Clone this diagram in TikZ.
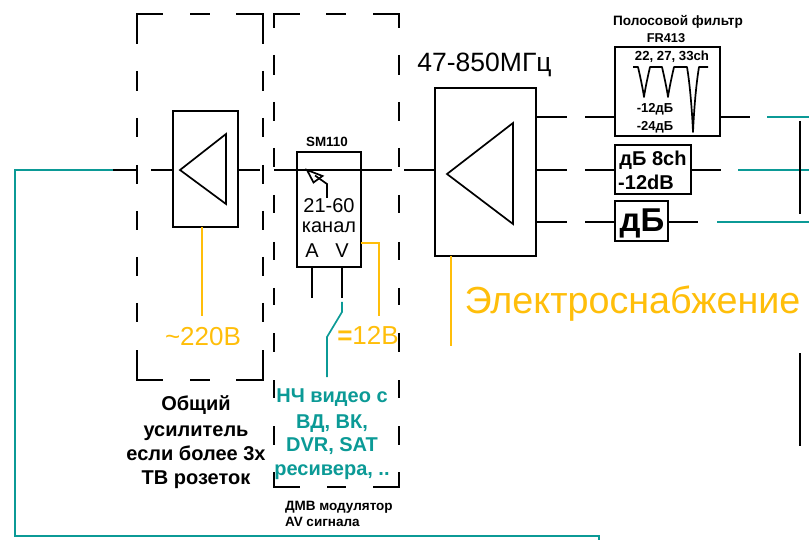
\documentclass[tikz,border=0pt]{standalone}
\usepackage{fontspec}
\setmainfont{Liberation Sans}
\definecolor{tealc}{HTML}{0B9A96}
\definecolor{orangec}{HTML}{FFBE0A}
\tikzset{
  blk/.style={draw=black,line width=1.9pt,minimum width=#1,inner sep=0pt,outer sep=0pt,rectangle},
  wire/.style={black,line width=1.9pt},
  thin wire/.style={black,line width=1.7pt},
  frameline/.style={black,line width=1.6pt},
  tealw/.style={tealc,line width=1.7pt},
  orw/.style={orangec,line width=1.6pt},
  lbl/.style={inner sep=0pt,outer sep=0pt,anchor=base,align=center},
  bl/.style={lbl,font=\bfseries\fontsize{#1}{#1}\selectfont},
  rg/.style={lbl,font=\fontsize{#1}{#1}\selectfont},
}
\begin{document}
\begin{tikzpicture}[x=1pt,y=-1pt]
\useasboundingbox (0,0) rectangle (809,540);
% frames
\draw[frameline] (137,44)--(137,14)--(163,14) (190,14)--(210,14) (236,14)--(263,14)--(263,44)
  (137,71)--(137,91) (137,118)--(137,137) (137,165)--(137,184) (137,211)--(137,230) (137,257)--(137,276) (137,303)--(137,322)
  (263,71)--(263,91) (263,118)--(263,137) (263,165)--(263,184) (263,211)--(263,230) (263,257)--(263,276) (263,303)--(263,322)
  (137,350)--(137,380)--(163,380) (190,380)--(210,380) (236,380)--(263,380)--(263,350);
\draw[frameline] (274,28)--(274,14)--(300,14) (326,14)--(346,14) (373,14)--(399,14)--(399,28)
  (274,55)--(274,75) (274,102)--(274,121) (274,148)--(274,167) (274,195)--(274,213) (274,242)--(274,260) (274,288)--(274,305) (274,333)--(274,352) (274,380)--(274,398) (274,426)--(274,445)
  (399,55)--(399,75) (399,102)--(399,121) (399,148)--(399,167) (399,195)--(399,213) (399,242)--(399,260) (399,288)--(399,305) (399,333)--(399,352) (399,380)--(399,398) (399,426)--(399,445)
  (274,472)--(274,487)--(300,487) (327,487)--(346,487) (373,487)--(399,487)--(399,472);
% blocks
\node[blk=65pt,minimum height=116pt] (amp1) at (205.5,169) {};
\node[blk=64pt,minimum height=115pt] (mod) at (329,209.5) {};
\node[blk=101pt,minimum height=168pt] (amp2) at (485.5,172) {};
\node[blk=105pt,minimum height=89pt] (filt) at (667.5,91.5) {};
\node[blk=76pt,minimum height=49pt] (att1) at (653,169.5) {};
\node[blk=53pt,minimum height=40pt] (att2) at (641.5,221) {};
% triangles
\draw[thin wire,line join=miter] (180,170)--(226,134)--(226,204)--cycle;
\draw[thin wire,line join=miter] (447,174)--(513,123)--(513,224)--cycle;
% wires
\coordinate (a) at (113,170); \coordinate (b) at (137,170); \coordinate (c) at (151,170);
\coordinate (d) at (260,170); \coordinate (e) at (274,170); \coordinate (f) at (392,170); \coordinate (g) at (404,170);
\coordinate (corner1) at (15,170); \coordinate (corner2) at (15,536); \coordinate (corner3) at (599,536); \coordinate (fin) at (599,540);
\draw[tealw] (a)--(corner1)--(corner2)--(corner3)--(fin);
\draw[wire] (a)--(b);
\draw[wire] (c)--(amp1.west |- c);
\draw[wire] (amp1.east |- d)--(d);
\draw[wire] (e)--(f);
\draw[wire] (g)--(amp2.west |- g);
% outputs
\coordinate (o1) at (567,117); \coordinate (o2) at (567,170); \coordinate (o3) at (567,222);
\coordinate (i1) at (585,117); \coordinate (i2) at (585,170); \coordinate (i3) at (585,222);
\draw[wire] (amp2.east |- o1)--(o1) (amp2.east |- o2)--(o2) (amp2.east |- o3)--(o3);
\draw[wire] (i1)--(filt.west |- i1) (i2)--(att1.west |- i2) (i3)--(att2.west |- i3);
\coordinate (e1) at (750,117); \coordinate (e2) at (721,170); \coordinate (e3) at (698,222);
\draw[wire] (filt.east |- e1)--(e1) (att1.east |- e2)--(e2) (att2.east |- e3)--(e3);
\coordinate (t1) at (767,117); \coordinate (t2) at (738,170); \coordinate (t3) at (717,222);
\coordinate (r1) at (809,117); \coordinate (r2) at (809,170); \coordinate (r3) at (809,222);
\draw[tealw] (t1)--(r1) (t2)--(r2) (t3)--(r3);
\coordinate (v1) at (800,121); \coordinate (v2) at (800,214); \coordinate (v3) at (800,353); \coordinate (v4) at (800,446);
\draw[wire] (v1)--(v2) (v3)--(v4);
% filter curve
\draw[thin wire,line join=round] (633,67)--(638,67)..controls (641,80) and (643,90)..(644,97)..controls (645,90) and (647,80)..(650,67)--(662,67)..controls (665,80) and (667,90)..(668,97)..controls (669,90) and (671,80)..(674,67)--(687,67)..controls (690,85) and (692,110)..(693,132)..controls (694,110) and (696,85)..(699,67)--(708,67);
% tuner arrow
\coordinate (tip) at (307,170);
\draw[thin wire,line join=miter] (tip)--(322.5,176)--(313.5,182.5)--cycle;
\coordinate (tun) at (327,198);
\draw[thin wire] (tun)--(327,184)--(315,175.5);
% mod outputs
\coordinate (la) at (312,298); \coordinate (lv) at (342,298);
\draw[wire] (mod.south -| la)--(la) (mod.south -| lv)--(lv);
\coordinate (t4) at (342,302); \coordinate (t5) at (342,312); \coordinate (t6) at (327,337); \coordinate (t7) at (327,377);
\draw[tealw] (t4)--(t5)--(t6)--(t7);
% power
\coordinate (p1) at (202,316); \coordinate (p2) at (379,243); \coordinate (p3) at (379,316); \coordinate (p4) at (451,346);
\draw[orw] (amp1.south -| p1)--(p1);
\draw[orw] (mod.east |- p2)--(p2)--(p3);
\draw[orw] (amp2.south -| p4)--(p4);
% labels
\node[bl=13.6] (tf1) at (678,26) {Полосовой фильтр};
\node[bl=12.8] (tf2) at (666,43) {FR413};
\node[bl=13.2] (tf3) at (672,61) {22, 27, 33ch};
\node[bl=13] (tf4) at (655,112.7) {-12дБ};
\node[bl=13] (tf5) at (655,130.7) {-24дБ};
\node[bl=20] (ta1) at (653,165.7) {дБ 8ch};
\node[bl=20] (ta2) at (646,190) {-12dB};
\node[bl=33] (tb) at (642,232) {дБ};
\node[bl=13.4] (tsm) at (327,146.7) {SM110};
\node[rg=20] (tm1) at (329,213) {21-60};
\node[rg=20] (tm2) at (329,233) {канал};
\node[rg=20] (tma) at (312,258) {A};
\node[rg=20] (tmv) at (342,258) {V};
\node[rg=26,text=orangec] (t12) at (368,344) {{\bfseries =}12В};
\node[rg=26,text=orangec] (t220) at (203,345) {\textasciitilde 220В};
\node[rg=26.5] (tf) at (484.5,71.7) {47-850МГц};
\node[rg=37.7,text=orangec] (tel) at (632.5,313) {Электроснабжение};
\node[bl=20] (o1t) at (196,410.7) {Общий};
\node[bl=20] (o2t) at (196,436.7) {усилитель};
\node[bl=20] (o3t) at (196,460) {если более 3х};
\node[bl=20] (o4t) at (196,484) {ТВ розеток};
\node[bl=20,text=tealc] (n1) at (332,402) {НЧ видео с};
\node[bl=20,text=tealc] (n2) at (332,428) {ВД, ВК,};
\node[bl=20,text=tealc] (n3) at (332,451) {DVR, SAT};
\node[bl=20,text=tealc] (n4) at (332,475.7) {ресивера, ..};
\node[bl=13.5,anchor=base west] (d1) at (285,510) {ДМВ модулятор};
\node[bl=13.5,anchor=base west] (d2) at (285,526) {AV сигнала};
\end{tikzpicture}
\end{document}
